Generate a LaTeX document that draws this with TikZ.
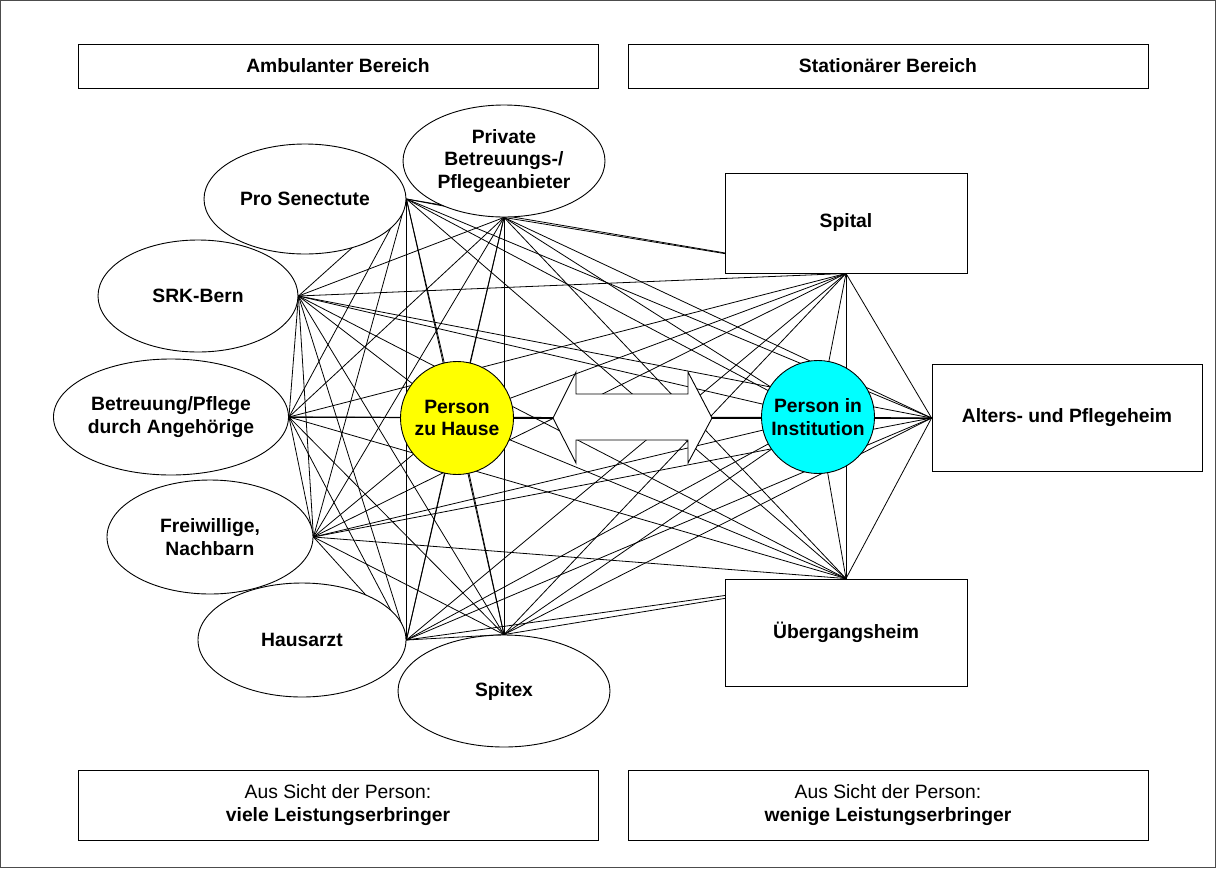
\documentclass[tikz,border=0pt]{standalone}
\usepackage{fontspec}
\setmainfont{Liberation Sans}
\usetikzlibrary{shapes.geometric}
\pgfdeclarelayer{bg}
\pgfsetlayers{bg,main}
\begin{document}
\begin{tikzpicture}[x=1pt,y=-1pt,
  txt/.style={font=\fontsize{19.3}{22.3}\selectfont\bfseries, align=center, text=black},
  oval/.style={ellipse, draw, fill=white, line width=0.9pt, inner sep=0pt, txt},
  box/.style={rectangle, draw, fill=white, line width=0.9pt, inner sep=0pt, txt},
  person/.style={circle, draw, line width=0.9pt, inner sep=0pt, minimum size=113pt, txt},
  conn/.style={line width=0.8pt, black}]
\useasboundingbox (0,0) rectangle (1216,868);
\draw[line width=0.8pt, black!70] (0.5,0.5) rectangle (1215.5,867.5);
% header and footer boxes
\node[box, minimum width=520pt, minimum height=44pt] (amb) at (338,66) {Ambulanter Bereich};
\node[box, minimum width=520pt, minimum height=44pt] (stat) at (888,66) {Stationärer Bereich};
\node[box, minimum width=520pt, minimum height=70pt, font=\fontsize{19.3}{23.5}\selectfont] (ambfoot) at (338,805) {Aus Sicht der Person:\\\textbf{viele Leistungserbringer}};
\node[box, minimum width=520pt, minimum height=70pt, font=\fontsize{19.3}{23.5}\selectfont] (statfoot) at (888,805) {Aus Sicht der Person:\\\textbf{wenige Leistungserbringer}};
% ambulant providers
\node[oval, minimum width=202pt, minimum height=110pt] (ps) at (305,199) {Pro Senectute};
\node[oval, minimum width=202pt, minimum height=112pt] (pr) at (504,161) {Private\\Betreuungs-/\\Pflegeanbieter};
\node[oval, minimum width=200pt, minimum height=112pt] (srk) at (198,296) {SRK-Bern};
\node[oval, minimum width=214pt, minimum height=116pt] (bp) at (171,417) {Betreuung/Pflege\\durch Angehörige};
\node[oval, minimum width=206pt, minimum height=114pt] (fw) at (210,537) {Freiwillige,\\Nachbarn};
\node[oval, minimum width=208pt, minimum height=114pt] (ha) at (302,640) {Hausarzt};
\node[oval, minimum width=212pt, minimum height=112pt] (sx) at (504,691) {Spitex};
% persons
\node[person, fill={rgb,255:red,255;green,255;blue,0}] (ph) at (457,418) {Person\\zu Hause};
\node[person, fill={rgb,255:red,0;green,255;blue,255}] (pi) at (818,417) {Person in\\Institution};
% stationary institutions
\node[box, minimum width=242pt, minimum height=100pt] (sp) at (846,223) {Spital};
\node[box, minimum width=270pt, minimum height=107pt] (aph) at (1067,418) {Alters- und Pflegeheim};
\node[box, minimum width=242pt, minimum height=107pt] (uh) at (846,632.5) {Übergangsheim};
% double arrow between the persons
\draw[fill=white, line width=0.9pt] (553,418) -- (576,372) -- (576,394) -- (688,394) -- (688,372)
  -- (712,418) -- (688,463) -- (688,440) -- (576,440) -- (576,463) -- cycle;
% all connections
\begin{pgfonlayer}{bg}
\def\anchorlist{ps.east,pr.south,srk.east,bp.east,fw.east,ha.east,sx.north,ph.center,pi.center,sp.south,aph.west,uh.north}
\foreach \a [count=\i] in \anchorlist {
  \foreach \b [count=\j] in \anchorlist {
    \ifnum\j>\i \draw[conn] (\a) -- (\b); \fi
  }
}
\end{pgfonlayer}
\end{tikzpicture}
\end{document}
